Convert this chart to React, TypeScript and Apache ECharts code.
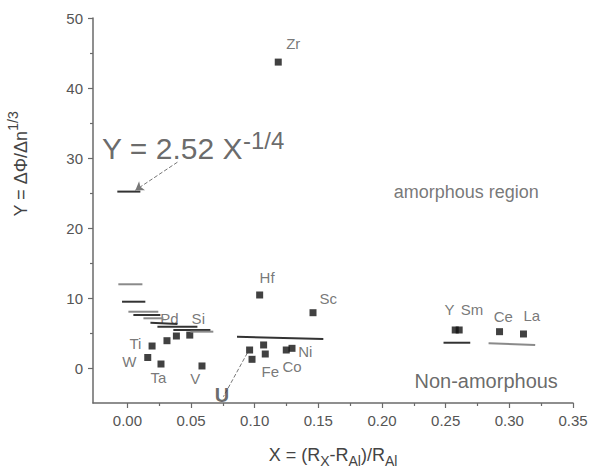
import React, { useEffect, useRef } from "react";
import * as echarts from "echarts";

const FONT = "'Liberation Sans', Arial, sans-serif";

// measured points [x, y]
const squares: [number, number][] = [
  [0.1185, 43.7], // Zr
  [0.0194, 3.14], // Ti
  [0.016, 1.5], // W
  [0.0264, 0.57], // Ta
  [0.0311, 3.9], // Pd
  [0.0385, 4.57],
  [0.049, 4.7], // Si
  [0.0586, 0.29], // V
  [0.1039, 10.43], // Hf
  [0.1458, 7.9], // Sc
  [0.096, 2.57], // U
  [0.0979, 1.24],
  [0.107, 3.29], // Fe
  [0.1083, 2.0],
  [0.1248, 2.57], // Co
  [0.1293, 2.81], // Ni
  [0.2575, 5.43], // Y
  [0.2606, 5.43], // Sm
  [0.2923, 5.19], // Ce
  [0.3111, 4.86], // La
];

// predicted-value segments [x1, y1, x2, y2, dark?]
const segments: [number, number, number, number, number][] = [
  [-0.0079, 25.2, 0.0102, 25.2, 1],
  [-0.0071, 11.96, 0.0118, 11.96, 0],
  [-0.0042, 9.47, 0.0141, 9.47, 1],
  [0.0008, 8.04, 0.0243, 8.04, 0],
  [0.0047, 7.57, 0.0259, 7.57, 1],
  [0.0126, 7.1, 0.0283, 7.1, 0],
  [0.0181, 6.45, 0.0393, 6.3, 1],
  [0.0236, 5.9, 0.055, 5.9, 1],
  [0.0361, 5.43, 0.0652, 5.43, 1],
  [0.0495, 5.19, 0.0675, 5.19, 0],
  [0.0861, 4.47, 0.1539, 4.14, 1],
  [0.2483, 3.61, 0.2693, 3.61, 1],
  [0.2837, 3.53, 0.3203, 3.29, 0],
];

// element labels [text, x, y]
const labels: [string, number, number][] = [
  ["Zr", 0.1303, 46.4],
  ["Hf", 0.1097, 12.86],
  ["Sc", 0.1578, 10.0],
  ["Pd", 0.033, 7.14],
  ["Si", 0.0557, 7.14],
  ["Ti", 0.0063, 3.57],
  ["W", 0.0016, 0.86],
  ["Ta", 0.0243, -1.29],
  ["V", 0.0534, -1.43],
  ["Fe", 0.1123, -0.53],
  ["Co", 0.1293, 0.19],
  ["Ni", 0.1397, 2.29],
  ["Y", 0.253, 8.29],
  ["Sm", 0.2706, 8.39],
  ["Ce", 0.2952, 7.33],
  ["La", 0.3177, 7.57],
];

const regionLabels: [string, number, number][] = [["amorphous region", 0.2661, 25.14]];
const nonAmorphLabel: [string, number, number] = ["Non-amorphous", 0.2818, -1.86];

const uLabel: [string, number, number] = ["U", 0.0743, -3.8];
const formulaPos: [number, number] = [-0.0199, 31.3];

const arrows: [number, number, number, number, number][] = [
  // x1, y1, x2, y2, hasHead
  [0.0393, 29.4, 0.0063, 25.4, 1],
  [0.0942, 2.14, 0.0754, -4.1, 0],
];

const xMajor = [0, 0.05, 0.1, 0.15, 0.2, 0.25, 0.3, 0.35];
const xMinor = [0.025, 0.075, 0.125, 0.175, 0.225, 0.275, 0.325];
const yMajor = [0, 10, 20, 30, 40, 50];
const yMinor = [5, 15, 25, 35, 45];
const X_MIN = -0.027;
const X_MAX = 0.35;
const Y_MIN = -5;
const Y_MAX = 50;

export default function App() {
  const ref = useRef<HTMLDivElement>(null);
  useEffect(() => {
    if (!ref.current) return;
    const chart = echarts.init(ref.current, null, { renderer: "svg" });
    const axisColor = "#6a6a6a";
    const textColor = "#555";

    const series: any[] = [];
    segments.forEach((s) => {
      series.push({
        type: "line",
        data: [
          [s[0], s[1]],
          [s[2], s[3]],
        ],
        showSymbol: false,
        silent: true,
        lineStyle: { color: s[4] ? "#333" : "#8a8a8a", width: 2 },
      });
    });
    series.push({
      type: "lines",
      coordinateSystem: "cartesian2d",
      silent: true,
      data: arrows.map((a) => ({
        coords: [
          [a[0], a[1]],
          [a[2], a[3]],
        ],
        symbol: a[4] ? ["none", "arrow"] : ["none", "none"],
        symbolSize: 8,
      })),
      lineStyle: { color: "#777", width: 1, type: "dashed", opacity: 1 },
      itemStyle: { color: "#222" },
    });
    series.push({
      type: "scatter",
      data: squares,
      symbol: "rect",
      symbolSize: 7,
      itemStyle: { color: "#111" },
      silent: true,
    });
    const textSeries = (items: [string, number, number][], style: any) => ({
      type: "scatter",
      data: items.map((l) => ({ value: [l[1], l[2]], name: l[0] })),
      symbolSize: 1,
      itemStyle: { color: "rgba(0,0,0,0)" },
      silent: true,
      label: {
        show: true,
        position: "inside",
        formatter: (p: any) => p.name,
        fontFamily: FONT,
        color: textColor,
        align: "center",
        verticalAlign: "middle",
        ...style,
      },
    });
    series.push(textSeries(labels, { fontSize: 15 }));
    series.push(textSeries(regionLabels, { fontSize: 18 }));
    series.push(textSeries([nonAmorphLabel], { fontSize: 20, color: "#444" }));
    series.push(textSeries([uLabel], { fontSize: 20, fontWeight: "bold", color: "#444" }));
    series.push({
      type: "scatter",
      data: [formulaPos],
      symbolSize: 1,
      itemStyle: { color: "rgba(0,0,0,0)" },
      silent: true,
      label: {
        show: true,
        position: "inside",
        align: "left",
        verticalAlign: "middle",
        formatter: "{b|Y = 2.52 X}{sup|-1/4}",
        rich: {
          b: { fontSize: 30, lineHeight: 40, color: "#444", fontFamily: FONT },
          sup: {
            fontSize: 24,
            lineHeight: 24,
            verticalAlign: "top",
            color: "#444",
            fontFamily: FONT,
          },
        },
      },
    });

    const baseX = {
      type: "value",
      min: X_MIN,
      max: X_MAX,
      position: "bottom",
      splitLine: { show: false },
    };
    const baseY = {
      type: "value",
      min: Y_MIN,
      max: Y_MAX,
      position: "left",
      splitLine: { show: false },
    };

    chart.setOption({
      animation: false,
      textStyle: { fontFamily: FONT },
      grid: {
        left: 93,
        right: 30,
        top: 18,
        bottom: 70,
        containLabel: false,
        outerBoundsMode: "none",
      },
      xAxis: [
        {
          ...baseX,
          axisLine: { show: true, onZero: false, lineStyle: { color: axisColor, width: 1.5 } },
          axisTick: {
            show: true,
            length: 5,
            customValues: xMajor,
            lineStyle: { color: axisColor, width: 1.2 },
          },
          axisLabel: {
            show: true,
            customValues: xMajor,
            formatter: (v: number) => v.toFixed(2),
            color: textColor,
            fontSize: 15,
            margin: 10,
            fontFamily: FONT,
          },
          name: "X = (R{sub|X}-R{sub|Al})/R{sub|Al}",
          nameLocation: "middle",
          nameGap: 39,
          nameTextStyle: {
            color: "#444",
            fontSize: 18,
            lineHeight: 26,
            fontFamily: FONT,
            rich: {
              sub: {
                fontSize: 14,
                lineHeight: 12,
                verticalAlign: "bottom",
                color: "#444",
                fontFamily: FONT,
              },
            },
          },
        },
        {
          ...baseX,
          axisLine: { show: false, onZero: false },
          axisTick: {
            show: true,
            length: 3,
            customValues: xMinor,
            lineStyle: { color: axisColor, width: 1.2 },
          },
          axisLabel: { show: false },
        },
      ],
      yAxis: [
        {
          ...baseY,
          axisLine: { show: true, onZero: false, lineStyle: { color: axisColor, width: 1.5 } },
          axisTick: {
            show: true,
            length: 5,
            customValues: yMajor,
            lineStyle: { color: axisColor, width: 1.2 },
          },
          axisLabel: {
            show: true,
            customValues: yMajor,
            color: textColor,
            fontSize: 15,
            margin: 10,
            fontFamily: FONT,
          },
        },
        {
          ...baseY,
          axisLine: { show: false, onZero: false },
          axisTick: {
            show: true,
            length: 3,
            customValues: yMinor,
            lineStyle: { color: axisColor, width: 1.2 },
          },
          axisLabel: { show: false },
        },
      ],
      graphic: [
        {
          type: "text",
          x: 21,
          y: 164,
          rotation: Math.PI / 2,
          style: {
            text: "{b|Y = ΔΦ/Δn}{sup|1/3}",
            align: "center",
            verticalAlign: "middle",
            rich: {
              b: { fontSize: 18, lineHeight: 30, fill: "#444", fontFamily: FONT },
              sup: {
                fontSize: 14,
                lineHeight: 12,
                verticalAlign: "top",
                fill: "#444",
                fontFamily: FONT,
              },
            },
          },
        },
      ],
      series,
    });
    return () => chart.dispose();
  }, []);
  return (
    <div
      ref={ref}
      style={{ position: "absolute", left: 0, top: 0, width: 603, height: 473, background: "#fff" }}
    />
  );
}
